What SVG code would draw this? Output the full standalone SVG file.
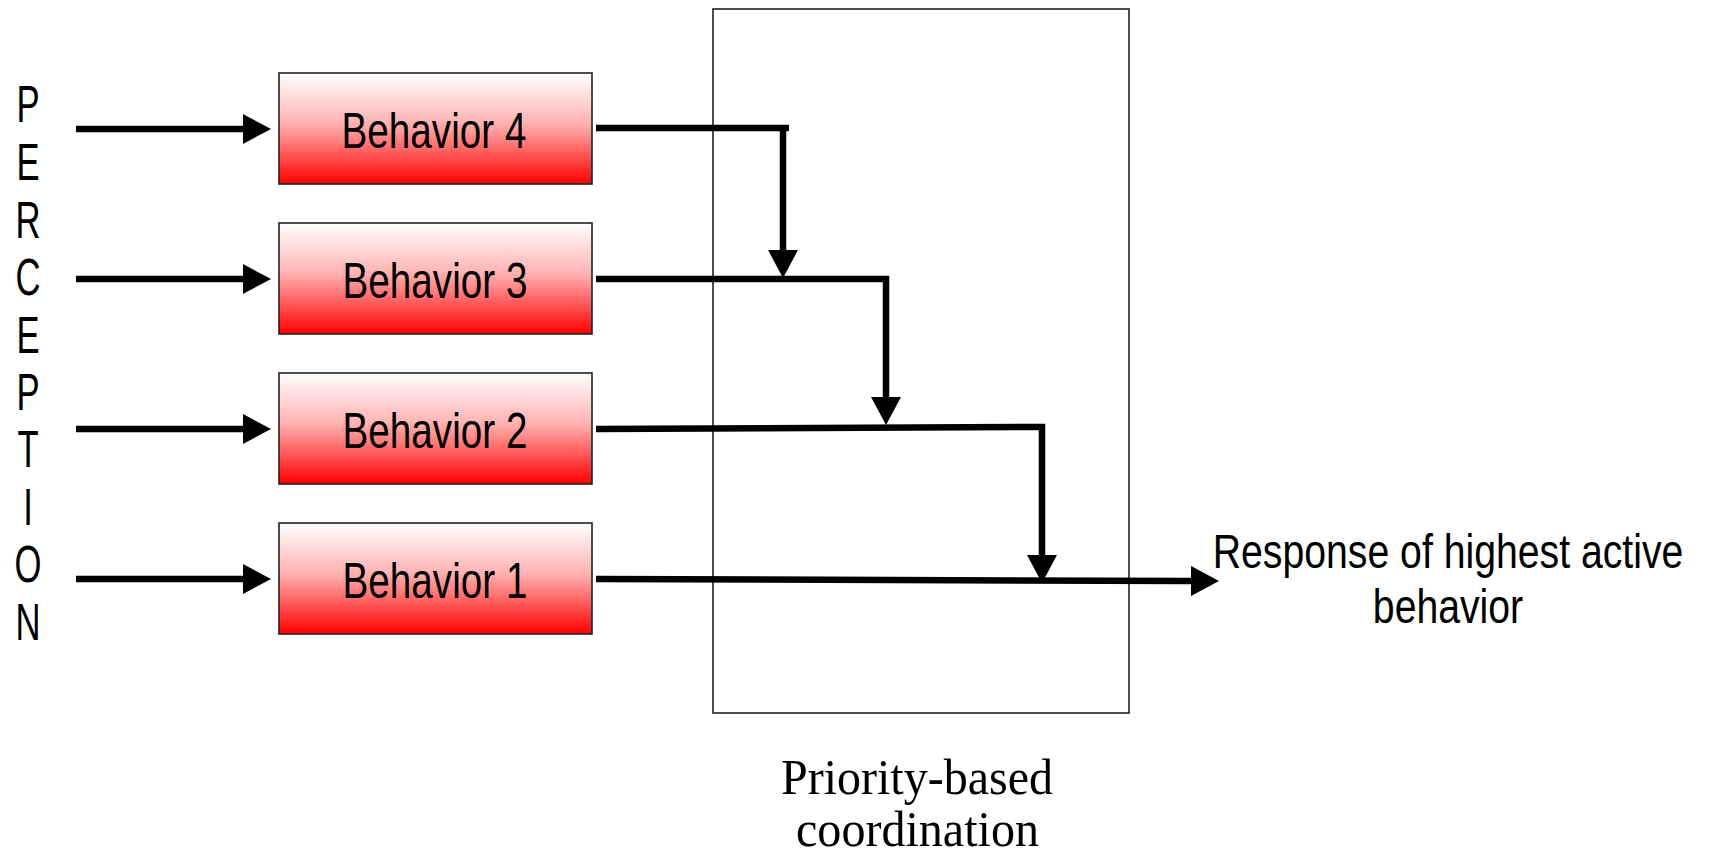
<svg xmlns="http://www.w3.org/2000/svg" width="1710" height="855" viewBox="0 0 1710 855">
  <style>
    .sans { font-family: "Liberation Sans", Arial, sans-serif; fill: #000; }
    .serif { font-family: "Liberation Serif", "Times New Roman", serif; fill: #000; }
    .box { fill: url(#redFade); stroke: #222; stroke-width: 1.6; }
    .label { font-size: 50px; text-anchor: middle; }
    .wire { fill: none; stroke: #000; stroke-width: 6.5; stroke-linejoin: miter; }
    .arrow { marker-end: url(#head); }
  </style>
  <defs>
    <linearGradient id="redFade" x1="0" y1="0" x2="0" y2="1">
      <stop offset="0" stop-color="#ffffff"/>
      <stop offset="0.45" stop-color="#ffb3b3"/>
      <stop offset="1" stop-color="#ff0000"/>
    </linearGradient>
    <marker id="head" viewBox="0 0 28 30" markerWidth="28" markerHeight="30" refX="1" refY="15" orient="auto" markerUnits="userSpaceOnUse">
      <path d="M0,0 L28,15 L0,30 Z" fill="#000"/>
    </marker>
  </defs>

  <rect width="1710" height="855" fill="#fff"/>

  <!-- coordination block -->
  <g id="coordination">
    <rect x="713" y="9" width="416" height="704" fill="none" stroke="#222" stroke-width="1.6"/>
    <text class="serif" font-size="51" x="781" y="794" textLength="272" lengthAdjust="spacingAndGlyphs">Priority-based</text>
    <text class="serif" font-size="51" x="796" y="846" textLength="243" lengthAdjust="spacingAndGlyphs">coordination</text>
  </g>

  <!-- vertical input label -->
  <g id="perception" class="sans" font-size="51" text-anchor="middle" transform="translate(28,0) scale(0.68,1)">
    <text x="0" y="122">P</text>
    <text x="0" y="180">E</text>
    <text x="0" y="238">R</text>
    <text x="0" y="295">C</text>
    <text x="0" y="353">E</text>
    <text x="0" y="410">P</text>
    <text x="0" y="467">T</text>
    <text x="0" y="525">I</text>
    <text x="0" y="582">O</text>
    <text x="0" y="640">N</text>
  </g>

  <!-- behaviour layers -->
  <g id="behavior4">
    <rect class="box" x="279" y="73" width="313" height="111"/>
    <text class="sans label" x="434" y="148" textLength="185" lengthAdjust="spacingAndGlyphs">Behavior 4</text>
  </g>
  <g id="behavior3">
    <rect class="box" x="279" y="223" width="313" height="111"/>
    <text class="sans label" x="435" y="298" textLength="185" lengthAdjust="spacingAndGlyphs">Behavior 3</text>
  </g>
  <g id="behavior2">
    <rect class="box" x="279" y="373" width="313" height="111"/>
    <text class="sans label" x="435" y="448" textLength="185" lengthAdjust="spacingAndGlyphs">Behavior 2</text>
  </g>
  <g id="behavior1">
    <rect class="box" x="279" y="523" width="313" height="111"/>
    <text class="sans label" x="435" y="598" textLength="185" lengthAdjust="spacingAndGlyphs">Behavior 1</text>
  </g>

  <!-- output label, condensed horizontally -->
  <g id="response" class="sans" font-size="49" text-anchor="middle" transform="translate(1448,0) scale(0.8,1)">
    <text x="0" y="568">Response of highest active</text>
    <text x="0" y="623">behavior</text>
  </g>

  <!-- connectors -->
  <g id="connectors">
    <!-- perception inputs -->
    <line class="wire arrow" x1="76" y1="129" x2="244" y2="129"/>
    <line class="wire arrow" x1="76" y1="279" x2="244" y2="279"/>
    <line class="wire arrow" x1="76" y1="429" x2="244" y2="429"/>
    <line class="wire arrow" x1="76" y1="579" x2="244" y2="579"/>

    <!-- behaviour 4 suppresses behaviour 3 -->
    <line class="wire" x1="596" y1="128" x2="789" y2="128"/>
    <line class="wire arrow" x1="783" y1="128" x2="783" y2="251"/>

    <!-- behaviour 3 suppresses behaviour 2 -->
    <path class="wire arrow" d="M596,279 H886 V398"/>

    <!-- behaviour 2 suppresses behaviour 1 -->
    <path class="wire arrow" d="M596,429 L1042,427 V556"/>

    <!-- behaviour 1 to output -->
    <line class="wire arrow" x1="596" y1="579" x2="1192" y2="581"/>
  </g>
</svg>
